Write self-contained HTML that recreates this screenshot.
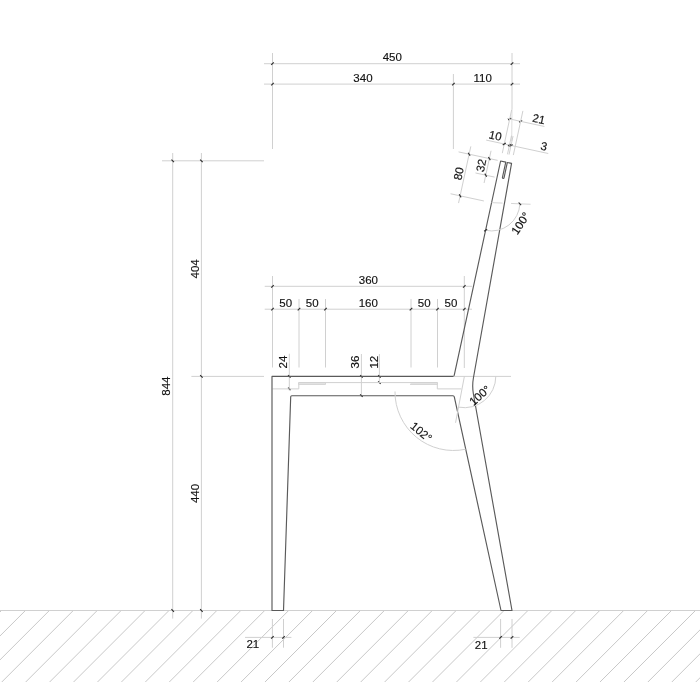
<!DOCTYPE html>
<html><head><meta charset="utf-8"><style>
html,body{margin:0;padding:0;background:#fff;}
svg{display:block;will-change:transform;}
text{font-family:"Liberation Sans",sans-serif;fill:#121212;stroke:#121212;stroke-width:0.15px;}
</style></head><body>
<div id="w"><svg width="700" height="682" viewBox="0 0 700 682">
<rect width="700" height="682" fill="#fff"/>
<g>
<path d="M-70.29,610.5 L-143.79,684 M-46.36,610.5 L-119.86,684 M-22.43,610.5 L-95.93,684 M1.50,610.5 L-72.00,684 M25.43,610.5 L-48.07,684 M49.36,610.5 L-24.14,684 M73.29,610.5 L-0.21,684 M97.22,610.5 L23.72,684 M121.15,610.5 L47.65,684 M145.08,610.5 L71.58,684 M169.01,610.5 L95.51,684 M192.94,610.5 L119.44,684 M216.87,610.5 L143.37,684 M240.80,610.5 L167.30,684 M264.73,610.5 L191.23,684 M288.66,610.5 L215.16,684 M312.59,610.5 L239.09,684 M336.52,610.5 L263.02,684 M360.45,610.5 L286.95,684 M384.38,610.5 L310.88,684 M408.31,610.5 L334.81,684 M432.24,610.5 L358.74,684 M456.17,610.5 L382.67,684 M480.10,610.5 L406.60,684 M504.03,610.5 L430.53,684 M527.96,610.5 L454.46,684 M551.89,610.5 L478.39,684 M575.82,610.5 L502.32,684 M599.75,610.5 L526.25,684 M623.68,610.5 L550.18,684 M647.61,610.5 L574.11,684 M671.54,610.5 L598.04,684 M695.47,610.5 L621.97,684 M719.40,610.5 L645.90,684 M743.33,610.5 L669.83,684 M767.26,610.5 L693.76,684" stroke="#c8c8c8" stroke-width="1" fill="none"/>
<line x1="0.00" y1="610.50" x2="700.00" y2="610.50" stroke="#d0d0d0" stroke-width="1.0" />
<line x1="264.00" y1="63.70" x2="520.00" y2="63.70" stroke="#d0d0d0" stroke-width="1.0" />
<line x1="264.00" y1="84.10" x2="520.00" y2="84.10" stroke="#d0d0d0" stroke-width="1.0" />
<line x1="272.50" y1="53.00" x2="272.50" y2="149.00" stroke="#d0d0d0" stroke-width="1.0" />
<line x1="453.40" y1="74.00" x2="453.40" y2="149.00" stroke="#d0d0d0" stroke-width="1.0" />
<line x1="512.00" y1="53.00" x2="512.00" y2="109.00" stroke="#d0d0d0" stroke-width="1.0" />
<line x1="512.00" y1="109.00" x2="511.70" y2="141.00" stroke="#dedede" stroke-width="1.0" />
<line x1="271.23" y1="64.97" x2="273.77" y2="62.43" stroke="#2a2a2a" stroke-width="1.1"/>
<line x1="510.73" y1="64.97" x2="513.27" y2="62.43" stroke="#2a2a2a" stroke-width="1.1"/>
<line x1="271.23" y1="85.37" x2="273.77" y2="82.83" stroke="#2a2a2a" stroke-width="1.1"/>
<line x1="452.13" y1="85.37" x2="454.67" y2="82.83" stroke="#2a2a2a" stroke-width="1.1"/>
<line x1="510.73" y1="85.37" x2="513.27" y2="82.83" stroke="#2a2a2a" stroke-width="1.1"/>
<text transform="translate(392.25,57.30) rotate(0)" x="0" y="4.12" text-anchor="middle" font-size="11.5">450</text>
<text transform="translate(362.95,77.70) rotate(0)" x="0" y="4.12" text-anchor="middle" font-size="11.5">340</text>
<text transform="translate(482.70,77.70) rotate(0)" x="0" y="4.12" text-anchor="middle" font-size="11.5">110</text>
<line x1="172.70" y1="153.00" x2="172.70" y2="618.60" stroke="#d0d0d0" stroke-width="1.0" />
<line x1="201.40" y1="153.00" x2="201.40" y2="618.60" stroke="#d0d0d0" stroke-width="1.0" />
<line x1="162.00" y1="160.80" x2="264.00" y2="160.80" stroke="#d0d0d0" stroke-width="1.0" />
<line x1="191.40" y1="376.40" x2="264.00" y2="376.40" stroke="#d0d0d0" stroke-width="1.0" />
<line x1="171.43" y1="159.53" x2="173.97" y2="162.07" stroke="#2a2a2a" stroke-width="1.1"/>
<line x1="200.13" y1="159.53" x2="202.67" y2="162.07" stroke="#2a2a2a" stroke-width="1.1"/>
<line x1="200.13" y1="375.13" x2="202.67" y2="377.67" stroke="#2a2a2a" stroke-width="1.1"/>
<line x1="171.43" y1="609.23" x2="173.97" y2="611.77" stroke="#2a2a2a" stroke-width="1.1"/>
<line x1="200.13" y1="609.23" x2="202.67" y2="611.77" stroke="#2a2a2a" stroke-width="1.1"/>
<text transform="translate(194.60,268.90) rotate(-90)" x="0" y="4.12" text-anchor="middle" font-size="11.5">404</text>
<text transform="translate(165.80,386.15) rotate(-90)" x="0" y="4.12" text-anchor="middle" font-size="11.5">844</text>
<text transform="translate(194.60,493.45) rotate(-90)" x="0" y="4.12" text-anchor="middle" font-size="11.5">440</text>
<line x1="264.70" y1="286.30" x2="472.00" y2="286.30" stroke="#d0d0d0" stroke-width="1.0" />
<line x1="264.70" y1="309.20" x2="472.00" y2="309.20" stroke="#d0d0d0" stroke-width="1.0" />
<line x1="272.50" y1="276.00" x2="272.50" y2="367.50" stroke="#d0d0d0" stroke-width="1.0" />
<line x1="464.30" y1="276.00" x2="464.30" y2="368.00" stroke="#d0d0d0" stroke-width="1.0" />
<line x1="299.00" y1="299.00" x2="299.00" y2="367.50" stroke="#d0d0d0" stroke-width="1.0" />
<line x1="325.50" y1="299.00" x2="325.50" y2="367.50" stroke="#d0d0d0" stroke-width="1.0" />
<line x1="411.00" y1="299.00" x2="411.00" y2="367.50" stroke="#d0d0d0" stroke-width="1.0" />
<line x1="437.50" y1="299.00" x2="437.50" y2="367.50" stroke="#d0d0d0" stroke-width="1.0" />
<line x1="271.23" y1="287.57" x2="273.77" y2="285.03" stroke="#2a2a2a" stroke-width="1.1"/>
<line x1="463.03" y1="287.57" x2="465.57" y2="285.03" stroke="#2a2a2a" stroke-width="1.1"/>
<line x1="271.23" y1="310.47" x2="273.77" y2="307.93" stroke="#2a2a2a" stroke-width="1.1"/>
<line x1="297.73" y1="310.47" x2="300.27" y2="307.93" stroke="#2a2a2a" stroke-width="1.1"/>
<line x1="324.23" y1="310.47" x2="326.77" y2="307.93" stroke="#2a2a2a" stroke-width="1.1"/>
<line x1="409.73" y1="310.47" x2="412.27" y2="307.93" stroke="#2a2a2a" stroke-width="1.1"/>
<line x1="436.23" y1="310.47" x2="438.77" y2="307.93" stroke="#2a2a2a" stroke-width="1.1"/>
<line x1="463.03" y1="310.47" x2="465.57" y2="307.93" stroke="#2a2a2a" stroke-width="1.1"/>
<text transform="translate(368.40,279.80) rotate(0)" x="0" y="4.12" text-anchor="middle" font-size="11.5">360</text>
<text transform="translate(285.75,302.70) rotate(0)" x="0" y="4.12" text-anchor="middle" font-size="11.5">50</text>
<text transform="translate(312.25,302.70) rotate(0)" x="0" y="4.12" text-anchor="middle" font-size="11.5">50</text>
<text transform="translate(368.25,302.70) rotate(0)" x="0" y="4.12" text-anchor="middle" font-size="11.5">160</text>
<text transform="translate(424.25,302.70) rotate(0)" x="0" y="4.12" text-anchor="middle" font-size="11.5">50</text>
<text transform="translate(450.90,302.70) rotate(0)" x="0" y="4.12" text-anchor="middle" font-size="11.5">50</text>
<line x1="289.30" y1="353.70" x2="289.30" y2="390.60" stroke="#d0d0d0" stroke-width="1.0" />
<line x1="288.03" y1="375.13" x2="290.57" y2="377.67" stroke="#2a2a2a" stroke-width="1.1"/>
<line x1="288.03" y1="387.63" x2="290.57" y2="390.17" stroke="#2a2a2a" stroke-width="1.1"/>
<line x1="361.40" y1="354.00" x2="361.40" y2="396.40" stroke="#d0d0d0" stroke-width="1.0" />
<line x1="360.13" y1="375.13" x2="362.67" y2="377.67" stroke="#2a2a2a" stroke-width="1.1"/>
<line x1="360.13" y1="394.43" x2="362.67" y2="396.97" stroke="#2a2a2a" stroke-width="1.1"/>
<line x1="379.40" y1="354.00" x2="379.40" y2="383.50" stroke="#d0d0d0" stroke-width="1.0" />
<line x1="378.13" y1="375.13" x2="380.67" y2="377.67" stroke="#2a2a2a" stroke-width="1.1"/>
<line x1="378.13" y1="381.33" x2="380.67" y2="383.87" stroke="#2a2a2a" stroke-width="1.1"/>
<text transform="translate(282.90,362.00) rotate(-90)" x="0" y="4.12" text-anchor="middle" font-size="11.5">24</text>
<text transform="translate(355.20,362.00) rotate(-90)" x="0" y="4.12" text-anchor="middle" font-size="11.5">36</text>
<text transform="translate(373.60,362.20) rotate(-90)" x="0" y="4.12" text-anchor="middle" font-size="11.5">12</text>
<path d="M272.5,388.9 L298.8,388.9 L298.8,382.6 L437.3,382.6 L437.3,388.9 L461.3,388.9" stroke="#d0d0d0" stroke-width="1" fill="none" stroke-linejoin="round"/>
<rect x="298.8" y="382.6" width="26.8" height="1.8" fill="#e2e2e2" stroke="#d0d0d0" stroke-width="0.8"/><rect x="410.5" y="382.6" width="26.8" height="1.8" fill="#e2e2e2" stroke="#d0d0d0" stroke-width="0.8"/>
<line x1="454.00" y1="376.40" x2="511.00" y2="376.40" stroke="#d0d0d0" stroke-width="1.0" />
<path d="M500.60,161.00 L454.2,375.4 Q453.8,376.4 452.8,376.4 L272.0,376.4 L272.0,610.5 L283.5,610.5 L290.7,396.8 Q290.8,395.7 291.8,395.7 L453.0,395.7 Q454.0,395.7 454.3,396.8 L501.0,610.5 L512.0,610.5 L473.4,394 Q472.0,386 473.4,378 L511.55,163.37 L507.34,162.46 L504.03,177.80 A0.8,0.8 0 0 1 502.46,177.47 L505.78,162.12 Z" stroke="#5a5a5a" stroke-width="1.15" fill="none" stroke-linejoin="round"/>
<line x1="507.24" y1="118.44" x2="544.39" y2="126.47" stroke="#d0d0d0" stroke-width="1.0" />
<line x1="508.17" y1="119.95" x2="511.20" y2="118.00" stroke="#2a2a2a" stroke-width="1.1"/>
<line x1="519.12" y1="122.31" x2="522.15" y2="120.36" stroke="#2a2a2a" stroke-width="1.1"/>
<line x1="511.69" y1="109.69" x2="502.29" y2="153.18" stroke="#d0d0d0" stroke-width="1.0" />
<line x1="522.90" y1="110.88" x2="513.34" y2="155.06" stroke="#d0d0d0" stroke-width="1.0" />
<text transform="translate(538.76,118.91) rotate(12.2)" x="0" y="4.12" text-anchor="middle" font-size="11.5">21</text>
<line x1="486.19" y1="140.08" x2="548.26" y2="153.50" stroke="#d0d0d0" stroke-width="1.0" />
<line x1="502.76" y1="144.97" x2="505.79" y2="143.02" stroke="#2a2a2a" stroke-width="1.1"/>
<line x1="507.94" y1="146.09" x2="510.97" y2="144.14" stroke="#2a2a2a" stroke-width="1.1"/>
<line x1="509.51" y1="146.43" x2="512.53" y2="144.48" stroke="#2a2a2a" stroke-width="1.1"/>
<ellipse cx="510.34" cy="145.30" rx="2.0" ry="1.05" transform="rotate(-7.800000000000001 510.34 145.30)" fill="#1e1e1e"/>
<line x1="511.49" y1="135.73" x2="507.47" y2="154.30" stroke="#c4c4c4" stroke-width="0.8" />
<line x1="513.05" y1="136.07" x2="509.03" y2="154.64" stroke="#c4c4c4" stroke-width="0.8" />
<text transform="translate(495.27,135.50) rotate(12.2)" x="0" y="4.12" text-anchor="middle" font-size="11.5">10</text>
<text transform="translate(544.10,146.26) rotate(12.2)" x="0" y="4.12" text-anchor="middle" font-size="11.5">3</text>
<line x1="458.57" y1="151.91" x2="497.67" y2="160.37" stroke="#d0d0d0" stroke-width="1.0" />
<line x1="450.55" y1="193.76" x2="483.88" y2="200.97" stroke="#d0d0d0" stroke-width="1.0" />
<line x1="475.50" y1="172.97" x2="494.56" y2="177.09" stroke="#d0d0d0" stroke-width="1.0" />
<line x1="470.82" y1="146.38" x2="458.56" y2="203.07" stroke="#d0d0d0" stroke-width="1.0" />
<line x1="468.15" y1="152.68" x2="470.10" y2="155.71" stroke="#2a2a2a" stroke-width="1.1"/>
<line x1="459.15" y1="194.32" x2="461.10" y2="197.35" stroke="#2a2a2a" stroke-width="1.1"/>
<line x1="491.05" y1="150.75" x2="484.08" y2="183.01" stroke="#d0d0d0" stroke-width="1.0" />
<line x1="488.38" y1="157.06" x2="490.33" y2="160.08" stroke="#2a2a2a" stroke-width="1.1"/>
<line x1="484.79" y1="173.67" x2="486.74" y2="176.70" stroke="#2a2a2a" stroke-width="1.1"/>
<text transform="translate(458.47,173.68) rotate(-77.8)" x="0" y="4.12" text-anchor="middle" font-size="11.5">80</text>
<text transform="translate(481.01,165.46) rotate(-77.8)" x="0" y="4.12" text-anchor="middle" font-size="11.5">32</text>
<path d="M519.87,203.82 A28.3,28.3 0 0 1 485.62,230.30" stroke="#d0d0d0" stroke-width="1" fill="none"/>
<line x1="491.60" y1="202.64" x2="502.59" y2="203.10" stroke="#d6d6d6" stroke-width="1.0" />
<line x1="511.08" y1="203.45" x2="530.56" y2="204.27" stroke="#d6d6d6" stroke-width="1.0" />
<line x1="518.65" y1="202.50" x2="521.09" y2="205.15" stroke="#2a2a2a" stroke-width="1.1"/>
<line x1="487.13" y1="229.32" x2="484.10" y2="231.27" stroke="#2a2a2a" stroke-width="1.1"/>
<text transform="translate(520.40,223.30) rotate(-56)" x="0" y="4.12" text-anchor="middle" font-size="11.5">100°</text>
<path d="M495.80,376.30 A31.4,31.4 0 0 1 458.52,407.14" stroke="#d0d0d0" stroke-width="1" fill="none"/>
<line x1="464.40" y1="376.30" x2="455.56" y2="422.80" stroke="#d0d0d0" stroke-width="1.0" />
<text transform="translate(479.70,395.30) rotate(-41)" x="0" y="4.12" text-anchor="middle" font-size="11.5">100°</text>
<path d="M465.66,449.22 A58.5,58.5 0 0 1 395.00,391.49" stroke="#d0d0d0" stroke-width="1" fill="none"/>
<text transform="translate(421.30,431.80) rotate(40)" x="0" y="4.12" text-anchor="middle" font-size="11.5">102°</text>
<line x1="245.00" y1="637.40" x2="291.40" y2="637.40" stroke="#d0d0d0" stroke-width="1.0" />
<line x1="272.40" y1="619.00" x2="272.40" y2="647.70" stroke="#d0d0d0" stroke-width="1.0" />
<line x1="283.50" y1="619.00" x2="283.50" y2="647.70" stroke="#d0d0d0" stroke-width="1.0" />
<line x1="271.13" y1="638.67" x2="273.67" y2="636.13" stroke="#2a2a2a" stroke-width="1.1"/>
<line x1="282.23" y1="638.67" x2="284.77" y2="636.13" stroke="#2a2a2a" stroke-width="1.1"/>
<text transform="translate(252.85,644.30) rotate(0)" x="0" y="4.12" text-anchor="middle" font-size="11.5">21</text>
<line x1="473.40" y1="637.40" x2="519.70" y2="637.40" stroke="#d0d0d0" stroke-width="1.0" />
<line x1="500.60" y1="619.00" x2="500.60" y2="647.80" stroke="#d0d0d0" stroke-width="1.0" />
<line x1="512.00" y1="619.00" x2="512.00" y2="647.80" stroke="#d0d0d0" stroke-width="1.0" />
<line x1="499.33" y1="638.67" x2="501.87" y2="636.13" stroke="#2a2a2a" stroke-width="1.1"/>
<line x1="510.73" y1="638.67" x2="513.27" y2="636.13" stroke="#2a2a2a" stroke-width="1.1"/>
<text transform="translate(481.15,644.50) rotate(0)" x="0" y="4.12" text-anchor="middle" font-size="11.5">21</text>
</g>
</svg></div>
</body></html>
